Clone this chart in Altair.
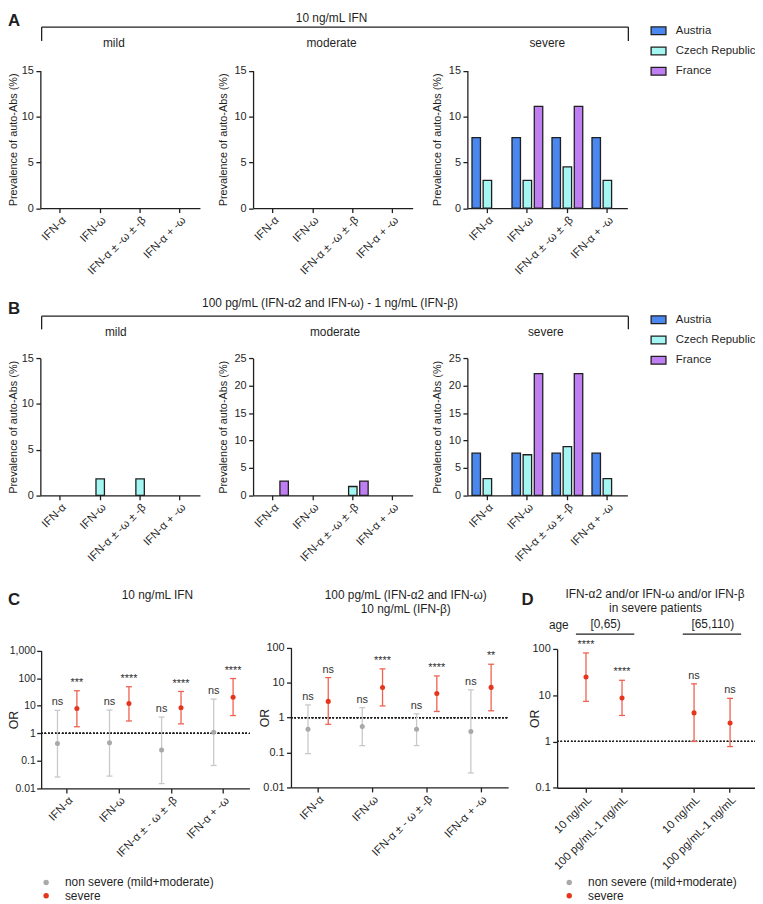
import altair as alt
import pandas as pd

FONT = "Liberation Sans, Arial, Helvetica, sans-serif"
INK = "#1f1f1f"
W, H = 755, 896


def X(r):
    return r - 4


def YA(r):
    return r - 1.5


def YB(r):
    return r - 4


def YC(r):
    return r - 6


# ---------------- data ----------------
countries = ["Austria", "Czech Republic", "France"]
country_colors = ["#4A88F0", "#A4F6F2", "#C07EF3"]
ifn_bar = ["IFN-α", "IFN-ω", "IFN-α ± -ω ± -β", "IFN-α + -ω"]

# A: 10 ng/mL IFN, prevalence of auto-Abs (%)
a_mild_austria = [0, 0, 0, 0]
a_mild_czech = [0, 0, 0, 0]
a_mild_france = [0, 0, 0, 0]
a_moderate_austria = [0, 0, 0, 0]
a_moderate_czech = [0, 0, 0, 0]
a_moderate_france = [0, 0, 0, 0]
a_severe_austria = [7.69, 7.69, 7.69, 7.69]
a_severe_czech = [3.03, 3.03, 4.5, 3.03]
a_severe_france = [0, 11.1, 11.1, 0]

# B: 100 pg/mL (IFN-a2, IFN-w) - 1 ng/mL (IFN-b)
b_mild_austria = [0, 0, 0, 0]
b_mild_czech = [0, 1.8, 1.8, 0]
b_mild_france = [0, 0, 0, 0]
b_moderate_austria = [0, 0, 0, 0]
b_moderate_czech = [0, 0, 1.6, 0]
b_moderate_france = [2.6, 0, 2.6, 0]
b_severe_austria = [7.69, 7.69, 7.69, 7.69]
b_severe_czech = [3.03, 7.4, 8.9, 3.03]
b_severe_france = [0, 22.2, 22.2, 0]

# C: odds ratios
groups = ["non severe (mild+moderate)", "severe"]
ifn_or = ["IFN-α", "IFN-ω", "IFN-α ± - ω ± -β", "IFN-α + -ω"]

c1_gray_or = [0.43, 0.45, 0.25, 1.09]
c1_gray_lo = [0.026, 0.028, 0.015, 0.068]
c1_gray_hi = [6.8, 7.0, 3.9, 17.4]
c1_gray_sig = ["ns", "ns", "ns", "ns"]
c1_red_or = [8.0, 12.0, 8.5, 20.4]
c1_red_lo = [1.73, 2.8, 2.2, 4.4]
c1_red_hi = [35, 49, 33, 97]
c1_red_sig = ["***", "****", "****", "****"]

c2_gray_or = [0.46, 0.55, 0.46, 0.40]
c2_gray_lo = [0.093, 0.157, 0.158, 0.026]
c2_gray_hi = [2.3, 1.92, 1.28, 6.2]
c2_gray_sig = ["ns", "ns", "ns", "ns"]
c2_red_or = [2.9, 7.2, 4.9, 7.3]
c2_red_lo = [0.64, 2.15, 1.49, 1.56]
c2_red_hi = [13.9, 24.7, 15.5, 33.5]
c2_red_sig = ["ns", "****", "****", "**"]

# D: severe patients by age
d_age = ["[0,65)", "[0,65)", "[65,110)", "[65,110)"]
d_conc = ["10 ng/mL", "100 pg/mL-1 ng/mL", "10 ng/mL", "100 pg/mL-1 ng/mL"]
d_or = [24.7, 8.7, 4.15, 2.52]
d_lo = [7.35, 3.65, 1.0, 0.775]
d_hi = [82, 21, 17.6, 8.55]
d_sig = ["****", "****", "ns", "ns"]

GRAY_PT, RED_PT = "#A9A9A9", "#E5361D"
GRAY_BAR, RED_BAR = "#C9C9C9", "#EE6150"


def bars_df(aus, cze, fra):
    rows = []
    for c, vals in zip(countries, [aus, cze, fra]):
        for ifn, v in zip(ifn_bar, vals):
            rows.append({"ifn": ifn, "country": c, "value": v})
    return pd.DataFrame(rows)


def or_df(cats, gor, glo, ghi, gsig, ror, rlo, rhi, rsig):
    rows = []
    for i, cat in enumerate(cats):
        rows.append({"ifn": cat, "group": groups[0], "or": gor[i], "lo": glo[i], "hi": ghi[i], "sig": gsig[i]})
        rows.append({"ifn": cat, "group": groups[1], "or": ror[i], "lo": rlo[i], "hi": rhi[i], "sig": rsig[i]})
    return pd.DataFrame(rows)


XLAB = dict(labelAngle=315, labelAlign="right", labelBaseline="top", labelPadding=1.5, labelFontSize=11.5)


# ---------------- panels ----------------
def bar_panel(df, ax, x1, ybot, ytop, ymax, title_dx, legend_y=None):
    legend = None
    if legend_y is not None:
        legend = alt.Legend(orient="none", legendX=X(653), legendY=legend_y, title=None,
                            symbolType="M-1,-0.52H1V0.52H-1Z", symbolSize=225,
                            symbolStrokeColor=INK, symbolStrokeWidth=1.3,
                            labelFont=FONT, labelFontSize=11.5, labelColor=INK,
                            labelOffset=9, rowPadding=5.5, padding=0)
    return alt.Chart(df).mark_bar(stroke=INK, strokeWidth=1.3).encode(
        x=alt.X("ifn:N", title=None,
                scale=alt.Scale(domain=ifn_bar, range=[ax, x1], paddingInner=0.22, paddingOuter=0.11),
                axis=alt.Axis(orient="bottom", offset=ybot - H, **XLAB)),
        xOffset=alt.XOffset("country:N",
                            scale=alt.Scale(domain=countries, paddingInner=0.24, paddingOuter=0.02)),
        y=alt.Y("value:Q", title="Prevalence of auto-Abs (%)",
                scale=alt.Scale(domain=[0, ymax], range=[ybot, ytop], nice=False, zero=True),
                axis=alt.Axis(orient="left", offset=-ax, values=list(range(0, ymax + 1, 5)),
                              titleX=title_dx, titleY=(ybot + ytop) / 2, titleBaseline="middle")),
        color=alt.Color("country:N", scale=alt.Scale(domain=countries, range=country_colors),
                        legend=legend),
        strokeOpacity=alt.condition("datum.value > 0", alt.value(1), alt.value(0)),
    )


def or_panel(df, xfield, xdomain, ax, x1, ybot, ytop, ydom, yvals, title_dx, use_offset,
             present, legend_x=None, x_pad_outer=0.0, axis_values=None, label_expr=None,
             ylab_size=11, ylab_pad=2.5):
    xaxis_kw = dict(orient="bottom", offset=ybot - H, **XLAB)
    if axis_values is not None:
        xaxis_kw["values"] = axis_values
    if label_expr is not None:
        xaxis_kw["labelExpr"] = label_expr
    xscale = alt.Scale(domain=xdomain, range=[ax, x1], paddingInner=0, paddingOuter=x_pad_outer)
    yscale = alt.Scale(type="log", domain=ydom, range=[ybot, ytop], nice=False)
    yaxis = alt.Axis(orient="left", offset=-ax, values=yvals, format=",",
                     labelFontSize=ylab_size, labelPadding=ylab_pad,
                     titleX=title_dx, titleY=(ybot + ytop) / 2, titleBaseline="middle",
                     titleFontSize=12.5)

    def enc(field, **kw):
        e = dict(x=alt.X(f"{xfield}:N", title=None, scale=xscale, axis=alt.Axis(**xaxis_kw)),
                 y=alt.Y(f"{field}:Q", title="OR", scale=yscale, axis=yaxis))
        if use_offset:
            e["xOffset"] = alt.XOffset("group:N", scale=alt.Scale(domain=groups, paddingOuter=0.34,
                                                                   paddingInner=0))
        e.update(kw)
        return e

    layers = [
        alt.Chart(df).mark_rule(color=INK, strokeDash=[1.5, 2], strokeWidth=1.3).encode(
            x=alt.value(ax), x2=alt.value(x1),
            y=alt.Y(datum=1, title="OR", scale=yscale, axis=yaxis))
    ]
    err_col = {groups[0]: GRAY_BAR, groups[1]: RED_BAR}
    for g in present:
        sub = df[df["group"] == g]
        c = err_col[g]
        layers.append(alt.Chart(sub).mark_rule(color=c, strokeWidth=1.3).encode(
            **enc("lo", y2=alt.Y2("hi:Q"))))
        layers.append(alt.Chart(sub).mark_tick(color=c, orient="horizontal", size=6, thickness=1.3,
                                               opacity=1).encode(**enc("lo")))
        layers.append(alt.Chart(sub).mark_tick(color=c, orient="horizontal", size=6, thickness=1.3,
                                               opacity=1).encode(**enc("hi")))
        layers.append(alt.Chart(sub).mark_text(dy=-5, baseline="alphabetic", fontSize=11, font=FONT,
                                               color="#333333").encode(**enc("hi", text="sig:N")))
    legend = None
    if legend_x is not None:
        legend = alt.Legend(orient="none", legendX=legend_x, legendY=YC(885) - 6, title=None,
                            symbolType="circle", symbolSize=30, symbolStrokeWidth=0,
                            labelFont=FONT, labelFontSize=12, labelColor=INK,
                            labelOffset=13, rowPadding=1.5, padding=0)
    pts = df[df["group"].isin(present)]
    layers.append(alt.Chart(pts).mark_circle(size=26, opacity=1).encode(
        **enc("or", color=alt.Color("group:N", scale=alt.Scale(domain=groups, range=[GRAY_PT, RED_PT]),
                                    legend=legend))))
    return alt.layer(*layers)


# ---------------- annotations ----------------
BLANK = alt.Data(values=[{}])


def txt(s, x, y, size=12, weight="normal", align="center", baseline="middle"):
    return alt.Chart(BLANK).mark_text(text=s, fontSize=size, fontWeight=weight, align=align,
                                      baseline=baseline, font=FONT, color=INK).encode(
        x=alt.value(x), y=alt.value(y))


def hline(x0, x1, y, w=1.3):
    return alt.Chart(BLANK).mark_rule(color=INK, strokeWidth=w).encode(
        x=alt.value(x0), x2=alt.value(x1), y=alt.value(y))


def vline(x, y0, y1, w=1.3):
    return alt.Chart(BLANK).mark_rule(color=INK, strokeWidth=w).encode(
        x=alt.value(x), y=alt.value(y0), y2=alt.value(y1))


layers = []

# ---- Row A ----
A1x, A2x, A3x = X(36.7), X(251.7), X(468.3)
a_bot, a_top = YA(199), YA(60)
layers += [
    bar_panel(bars_df(a_mild_austria, a_mild_czech, a_mild_france), A1x, X(198), a_bot, a_top, 15, 5.5 - A1x),
    bar_panel(bars_df(a_moderate_austria, a_moderate_czech, a_moderate_france), A2x, X(413), a_bot, a_top, 15, -30),
    bar_panel(bars_df(a_severe_austria, a_severe_czech, a_severe_france), A3x, X(630), a_bot, a_top, 15, -30,
              legend_y=YA(20.7) - 9.5),
    txt("A", 0, YA(15), size=17, weight="bold", align="left", baseline="alphabetic"),
    txt("10 ng/mL IFN", X(331), YA(6.5)),
    hline(X(38), X(631), YA(16)),
    vline(X(38), YA(16), YA(30)),
    vline(X(631), YA(16), YA(30)),
    txt("mild", X(111), YA(32.5)),
    txt("moderate", X(331), YA(32.5)),
    txt("severe", X(549), YA(32.5)),
]

# ---- Row B ----
b_bot, b_top = YB(491.7), YB(353.3)
layers += [
    bar_panel(bars_df(b_mild_austria, b_mild_czech, b_mild_france), A1x, X(198), b_bot, b_top, 15, 5.5 - A1x),
    bar_panel(bars_df(b_moderate_austria, b_moderate_czech, b_moderate_france), A2x, X(413), b_bot, b_top, 25, -30),
    bar_panel(bars_df(b_severe_austria, b_severe_czech, b_severe_france), A3x, X(630), b_bot, b_top, 25, -30,
              legend_y=YB(314.3) - 8.5),
    txt("B", 0, YB(308.3), size=17, weight="bold", align="left", baseline="alphabetic"),
    txt("100 pg/mL (IFN-α2 and IFN-ω) - 1 ng/mL (IFN-β)", X(329.5), YB(297)),
    hline(X(38), X(631), YB(310.7)),
    vline(X(38), YB(310.7), YB(324)),
    vline(X(631), YB(310.7), YB(324)),
    txt("mild", X(113), YB(326.5)),
    txt("moderate", X(334.5), YB(326.5)),
    txt("severe", X(547.5), YB(327)),
]

# ---- Row C / D ----
C1x, C2x, Dx = X(37.5), X(290), X(559)
df_c1 = or_df(ifn_or, c1_gray_or, c1_gray_lo, c1_gray_hi, c1_gray_sig, c1_red_or, c1_red_lo, c1_red_hi, c1_red_sig)
df_c2 = or_df(ifn_or, c2_gray_or, c2_gray_lo, c2_gray_hi, c2_gray_sig, c2_red_or, c2_red_lo, c2_red_hi, c2_red_sig)

d_slots = ["a|10 ng/mL", "a|100 pg/mL-1 ng/mL", "gap", "b|10 ng/mL", "b|100 pg/mL-1 ng/mL"]
df_d = pd.DataFrame({"age": d_age, "conc": d_conc, "or": d_or, "lo": d_lo, "hi": d_hi, "sig": d_sig})
df_d["slot"] = [("a|" if a == "[0,65)" else "b|") + c for a, c in zip(df_d["age"], df_d["conc"])]
df_d["group"] = groups[1]

layers += [
    or_panel(df_c1, "ifn", ifn_or, C1x, X(248), YC(790), YC(650.7), [0.01, 1000],
             [0.01, 0.1, 1, 10, 100, 1000], 5.5 - C1x, True, groups, legend_x=X(39.3) - 2.75,
             ylab_size=10.5, ylab_pad=1.5),
    or_panel(df_c2, "ifn", ifn_or, C2x, X(509.5), YC(789), YC(647.7), [0.01, 100],
             [0.01, 0.1, 1, 10, 100], -26.7, True, groups),
    or_panel(df_d, "slot", d_slots, Dx, X(763), YC(789.3), YC(649), [0.1, 100],
             [0.1, 1, 10, 100], -22.7, False, [groups[1]], legend_x=X(568) - 2.75,
             x_pad_outer=0.302, axis_values=[s for s in d_slots if s != "gap"],
             label_expr="split(datum.label, '|')[1]"),
    txt("C", 0, YC(605), size=17, weight="bold", align="left", baseline="alphabetic"),
    txt("10 ng/mL IFN", X(155), YC(594.5)),
    txt("100 pg/mL (IFN-α2 and IFN-ω)", X(406), YC(595)),
    txt("10 ng/mL (IFN-β)", X(406), YC(608.3)),
    txt("D", X(523), YC(605), size=17, weight="bold", align="left", baseline="alphabetic"),
    txt("IFN-α2 and/or IFN-ω and/or IFN-β", X(658), YC(594)),
    txt("in severe patients", X(658.5), YC(607.3)),
    txt("age", X(560.7), YC(625)),
    txt("[0,65)", X(608), YC(624)),
    txt("[65,110)", X(716.3), YC(624)),
    hline(X(578), X(637), YC(634)),
    hline(X(686), X(745), YC(634)),
]

chart = (
    alt.layer(*layers)
    .resolve_scale(x="independent", y="independent", xOffset="independent", color="independent")
    .resolve_axis(x="independent", y="independent")
    .resolve_legend(color="independent")
    .properties(width=W, height=H, padding=0, autosize=alt.AutoSizeParams(type="none"),
                background="white")
    .configure_view(stroke=None)
    .configure_axis(domainColor=INK, domainWidth=1.3, tickColor=INK, tickWidth=1.3, tickSize=4.5,
                    labelFont=FONT, labelFontSize=11, labelColor=INK, labelPadding=2.5,
                    labelOverlap=False, titleFont=FONT, titleFontSize=11, titleFontWeight="normal",
                    titleColor=INK, grid=False)
)

chart.save("out.html", embed_options={"renderer": "svg", "actions": False})
